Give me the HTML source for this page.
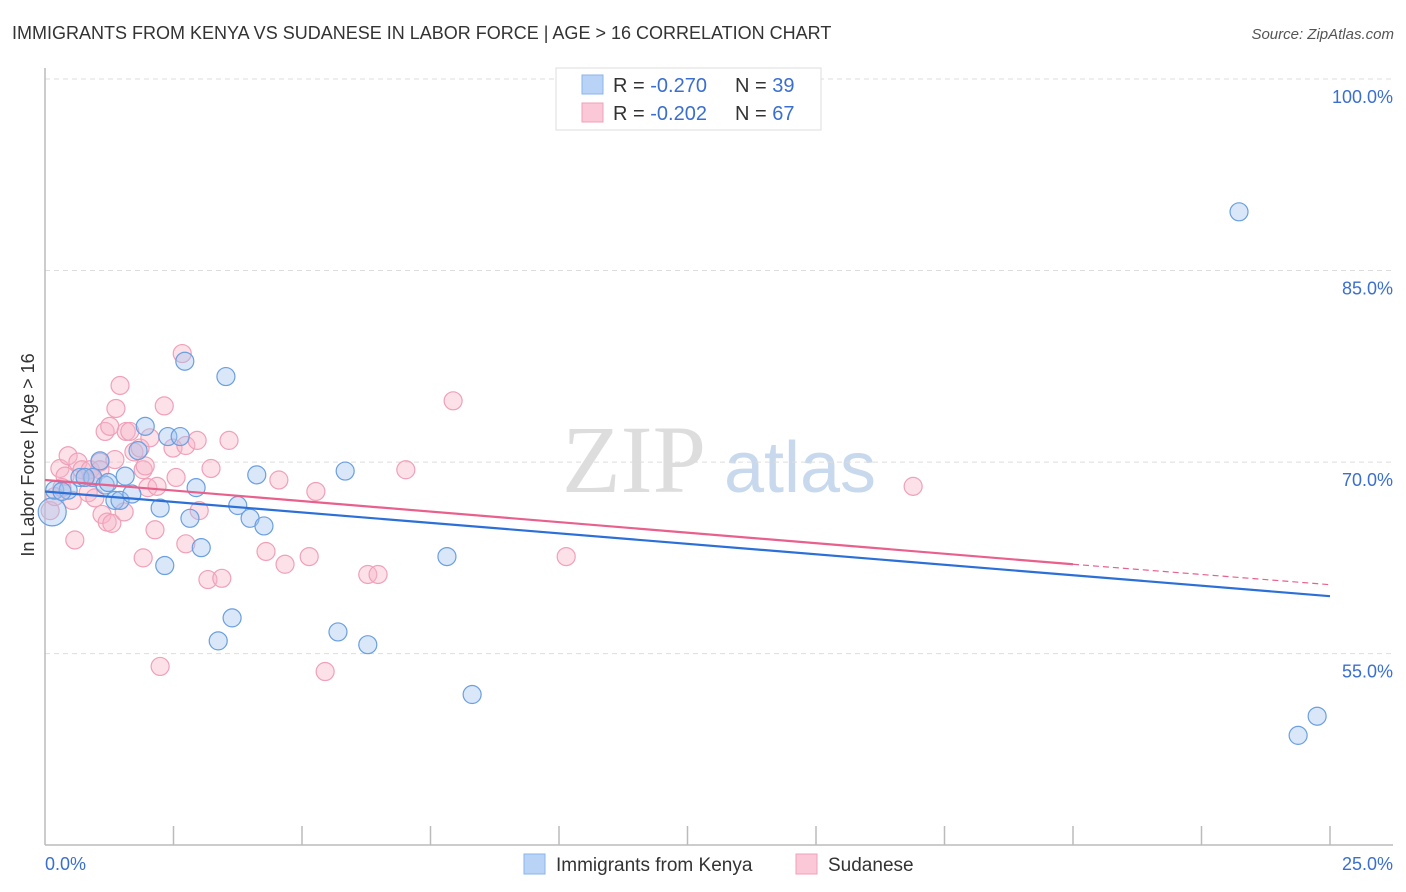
<!DOCTYPE html>
<html><head><meta charset="utf-8"><style>
body{margin:0;background:#fff;font-family:"Liberation Sans",sans-serif;}
svg{display:block}
</style></head><body>
<svg id="chart" width="1406" height="892">
<text x="12" y="39" font-size="18" fill="#333">IMMIGRANTS FROM KENYA VS SUDANESE IN LABOR FORCE | AGE &gt; 16 CORRELATION CHART</text>
<text x="1394" y="39" font-size="15" fill="#555" font-style="italic" text-anchor="end">Source: ZipAtlas.com</text>
<text x="634" y="492" font-size="96" fill="#ddd" font-family="Liberation Serif,serif" text-anchor="middle">ZIP</text>
<text x="800" y="492" font-size="72" fill="#c8d9ee" text-anchor="middle">atlas</text>
<g id="grid"></g>
<g id="axes"></g>
<g id="marks"></g>
<text x="34" y="455" font-size="18" fill="#333" text-anchor="middle" transform="rotate(-90 34 455)">In Labor Force | Age &gt; 16</text>
<g>
<rect x="556" y="68" width="265" height="62" fill="#fff" stroke="#ddd"/>
<rect x="582" y="75" width="21" height="19" fill="#b8d3f5" stroke="#8ab4ea"/>
<rect x="582" y="103" width="21" height="19" fill="#fbc8d8" stroke="#f0a0b8"/>
<text x="613" y="92" font-size="20" fill="#333">R = <tspan fill="#3a6fd0">-0.270</tspan></text>
<text x="735" y="92" font-size="20" fill="#333">N = <tspan fill="#3a6fd0">39</tspan></text>
<text x="613" y="120" font-size="20" fill="#333">R = <tspan fill="#3a6fd0">-0.202</tspan></text>
<text x="735" y="120" font-size="20" fill="#333">N = <tspan fill="#3a6fd0">67</tspan></text>
</g>
<g>
<rect x="524" y="854" width="21" height="20" fill="#b8d3f5" stroke="#8ab4ea"/>
<text x="556" y="871" font-size="19" fill="#333">Immigrants from Kenya</text>
<rect x="796" y="854" width="21" height="20" fill="#fbc8d8" stroke="#f0a0b8"/>
<text x="828" y="871" font-size="19" fill="#333">Sudanese</text>
</g>
</svg>
<script>
const yTicks=[100,85,70,55];
const xTickLabels=["0.0%","25.0%"];
const kenyaX=[0.14,0.19,0.45,0.68,0.93,1.07,1.17,1.36,1.46,1.56,1.69,1.81,1.95,2.24,2.33,2.39,2.63,2.72,2.82,2.94,3.04,3.37,3.52,3.64,3.75,3.99,4.12,4.26,5.70,5.84,6.28,7.82,8.31,23.23,24.38,24.75,0.33,0.78,1.23];
const kenyaY=[66.1,67.8,67.8,68.8,68.8,70.1,68.2,67.0,67.0,68.9,67.5,70.9,72.8,66.4,61.9,72.0,72.0,77.9,65.6,68.0,63.3,56.0,76.7,57.8,66.6,65.6,69.0,65.0,56.7,69.3,55.7,62.6,51.8,89.6,48.6,50.1,67.7,68.8,68.4];
const sudX=[0.10,0.19,0.29,0.39,0.45,0.53,0.58,0.64,0.72,0.84,0.88,0.97,1.07,1.11,1.17,1.21,1.26,1.30,1.36,1.38,1.46,1.54,1.58,1.65,1.73,1.85,1.91,1.91,2.00,2.04,2.14,2.18,2.24,2.32,2.49,2.55,2.67,2.74,2.74,2.96,3.00,3.17,3.23,3.44,3.58,4.30,4.55,4.67,5.14,5.27,5.45,6.28,6.48,7.02,7.94,10.14,16.89,0.33,0.78,0.91,1.07,1.95];
const sudY=[66.2,67.3,69.5,68.9,70.5,67.0,63.9,70.0,69.4,67.6,69.4,67.2,70.0,65.9,72.4,65.3,72.8,65.2,70.2,74.2,76.0,66.1,72.4,72.4,70.8,71.1,69.4,62.5,68.0,71.9,64.7,68.1,54.0,74.4,71.1,68.8,78.5,71.3,63.6,71.7,66.2,60.8,69.5,60.9,71.7,63.0,68.6,62.0,62.6,67.7,53.6,61.2,61.2,69.4,74.8,62.6,68.1,68.0,68.8,68.8,69.4,69.7];
const kenyaTrend=[67.7,59.5];
const sudTrend=[68.6,62.0,60.4];
const trendX=[0,20,25];

const NS="http://www.w3.org/2000/svg";
const X=v=>45+v/25*1285;
const Y=v=>79+(100-v)*12.77;
function mk(tag,attrs,parent){const e=document.createElementNS(NS,tag);for(const k in attrs)e.setAttribute(k,attrs[k]);parent.appendChild(e);return e;}
const grid=document.getElementById('grid'),axes=document.getElementById('axes'),marks=document.getElementById('marks');
yTicks.forEach((t,i)=>{
  const l=mk('line',{x1:45,x2:1393,y1:Y(t),y2:Y(t),stroke:'#ddd','stroke-dasharray':'5,4'},grid);
  
  
  const tx=mk('text',{x:1393,y:Y(t)+24,'font-size':18,fill:'#3a6fd0','text-anchor':'end'},axes);
  tx.textContent=t.toFixed(1)+'%';
  
  
});
let a=mk('line',{x1:45,x2:45,y1:68,y2:845,stroke:'#bbb','stroke-width':1.5},axes);


a=mk('line',{x1:45,x2:1393,y1:845,y2:845,stroke:'#bbb','stroke-width':1.5},axes);


for(let i=1;i<=10;i++){
  const t=mk('line',{x1:X(i*2.5),x2:X(i*2.5),y1:826,y2:845,stroke:'#bbb','stroke-width':1.5},axes);
  
  
}
let xl=mk('text',{x:45,y:870,'font-size':18,fill:'#3a6fd0'},axes);xl.textContent=xTickLabels[0];


xl=mk('text',{x:1393,y:870,'font-size':18,fill:'#3a6fd0','text-anchor':'end'},axes);xl.textContent=xTickLabels[1];



sudX.forEach((x,i)=>{
  const c=mk('circle',{cx:X(x),cy:Y(sudY[i]),r:9,fill:'rgba(248,180,200,0.4)',stroke:'#f0a0b8','stroke-width':1.2},marks);
  
  
});
kenyaX.forEach((x,i)=>{
  const c=mk('circle',{cx:X(x),cy:Y(kenyaY[i]),r:i===0?14:9,fill:'rgba(160,196,240,0.4)',stroke:'#6a9fe0','stroke-width':1.2},marks);
  
  
});
let tl=mk('line',{x1:X(0),y1:Y(kenyaTrend[0]),x2:X(25),y2:Y(kenyaTrend[1]),stroke:'#2c6fd6','stroke-width':2.2},marks);


tl=mk('line',{x1:X(trendX[0]),y1:Y(sudTrend[0]),x2:X(trendX[1]),y2:Y(sudTrend[1]),stroke:'#e8608c','stroke-width':2.2},marks);


tl=mk('line',{x1:X(trendX[1]),y1:Y(sudTrend[1]),x2:X(trendX[2]),y2:Y(sudTrend[2]),stroke:'#e8608c','stroke-width':1.2,'stroke-dasharray':'6,4'},marks);


</script>
</body></html>
